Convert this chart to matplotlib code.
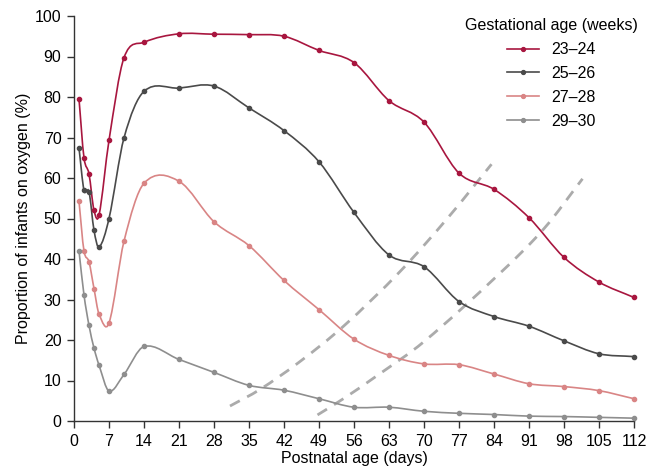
import numpy as np
import matplotlib
matplotlib.use("Agg")
import matplotlib.pyplot as plt
from matplotlib.path import Path
from matplotlib.patches import PathPatch
from matplotlib.lines import Line2D

plt.rcParams['font.family'] = ['Liberation Sans', 'DejaVu Sans']

# ── Data ─────────────────────────────────────────
days = [1, 2, 3, 4, 5, 7, 10, 14, 21, 28, 35, 42, 49, 56, 63, 70, 77, 84, 91, 98, 105, 112]

ga_23_24 = [79.5, 65.0, 61.0, 52.0, 50.8, 69.3, 89.7, 93.5, 95.6, 95.5, 95.4, 95.0,
            91.5, 88.5, 79.1, 73.8, 61.2, 57.2, 50.2, 40.4, 34.3, 30.5]
ga_25_26 = [67.4, 57.0, 56.6, 47.1, 42.9, 50.0, 69.9, 81.4, 82.2, 82.7, 77.3, 71.7,
            64.0, 51.5, 41.0, 38.1, 29.5, 25.8, 23.4, 19.8, 16.6, 15.9]
ga_27_28 = [54.2, 42.0, 39.3, 32.7, 26.4, 24.2, 44.4, 58.7, 59.2, 49.2, 43.3, 34.7,
            27.5, 20.2, 16.2, 14.1, 13.9, 11.6, 9.2, 8.5, 7.5, 5.5]
ga_29_30 = [42.0, 31.1, 23.6, 18.0, 13.8, 7.4, 11.5, 18.4, 15.2, 12.0, 8.8, 7.6,
            5.5, 3.4, 3.4, 2.4, 1.9, 1.6, 1.2, 1.1, 0.9, 0.7]

series_labels = ['23\u201324', '25\u201326', '27\u201328', '29\u201330']
series_colors = ['#a8163f', '#4a4a4a', '#d98585', '#8e8e8e']

# dashed guide curves
guide1_x = [31.2, 37.2, 45.0, 53.9, 65.2, 75.0, 83.5]
guide1_y = [3.7, 7.8, 14.5, 23.4, 36.9, 50.5, 63.4]
guide2_x = [48.7, 54.0, 60.5, 70.0, 85.2, 94.0, 101.7]
guide2_y = [1.5, 5.6, 11.1, 19.6, 36.5, 47.5, 59.8]

xticks = list(range(0, 113, 7))
yticks = list(range(0, 101, 10))

FS = 11.5


def smooth_path(x, y):
    # cubic Hermite segments drawn as Bezier curves in data coordinates
    x = np.asarray(x, float)
    y = np.asarray(y, float)
    n = len(x)
    m = np.zeros(n)
    for i in range(n):
        if i == 0:
            m[i] = (y[1] - y[0]) / (x[1] - x[0])
        elif i == n - 1:
            m[i] = (y[-1] - y[-2]) / (x[-1] - x[-2])
        else:
            m[i] = (y[i + 1] - y[i - 1]) / (x[i + 1] - x[i - 1])
    verts = [(x[0], y[0])]
    codes = [Path.MOVETO]
    for i in range(n - 1):
        h = x[i + 1] - x[i]
        verts += [(x[i] + h / 3, y[i] + m[i] * h / 3),
                  (x[i + 1] - h / 3, y[i + 1] - m[i + 1] * h / 3),
                  (x[i + 1], y[i + 1])]
        codes += [Path.CURVE4] * 3
    return Path(verts, codes)


fig = plt.figure(figsize=(6.5, 4.68), dpi=100)
ax = fig.add_axes([74 / 650, 1 - 421 / 468, 560 / 650, 405 / 468])

for gx, gy in [(guide1_x, guide1_y), (guide2_x, guide2_y)]:
    ax.add_patch(PathPatch(smooth_path(gx, gy), facecolor='none',
                           edgecolor='#ababab', lw=2.0, ls=(0, (4, 3)), zorder=1))

handles = []
for vals, lab, col in zip([ga_23_24, ga_25_26, ga_27_28, ga_29_30],
                          series_labels, series_colors):
    ax.add_patch(PathPatch(smooth_path(days, vals), facecolor='none',
                           edgecolor=col, lw=1.2, zorder=2, clip_on=False))
    ax.plot(days, vals, ls='none', marker='o', ms=3.0, color=col,
            zorder=3, clip_on=False)
    handles.append(Line2D([0], [0], color=col, lw=1.2, marker='o', ms=2.8))

ax.set_xlim(0, 112)
ax.set_ylim(0, 100)
ax.set_xticks(xticks)
ax.set_yticks(yticks)
ax.spines['top'].set_visible(False)
ax.spines['right'].set_visible(False)
for s in ['left', 'bottom']:
    ax.spines[s].set_color('#333333')
    ax.spines[s].set_linewidth(1.0)
ax.tick_params(direction='out', length=5, width=1.0, color='#333333',
               labelsize=FS, pad=4)
ax.set_xlabel('Postnatal age (days)', fontsize=FS, labelpad=2)
ax.set_ylabel('Proportion of infants on oxygen (%)', fontsize=FS, labelpad=3)

leg = ax.legend(handles, series_labels, title='Gestational age (weeks)',
                loc='upper right', bbox_to_anchor=(652 / 650, 1 - 4 / 468),
                bbox_transform=fig.transFigure, frameon=False, fontsize=FS,
                title_fontsize=FS, handlelength=2.0, handletextpad=0.8,
                labelspacing=0.55)

fig.savefig('out.png', dpi=100)
